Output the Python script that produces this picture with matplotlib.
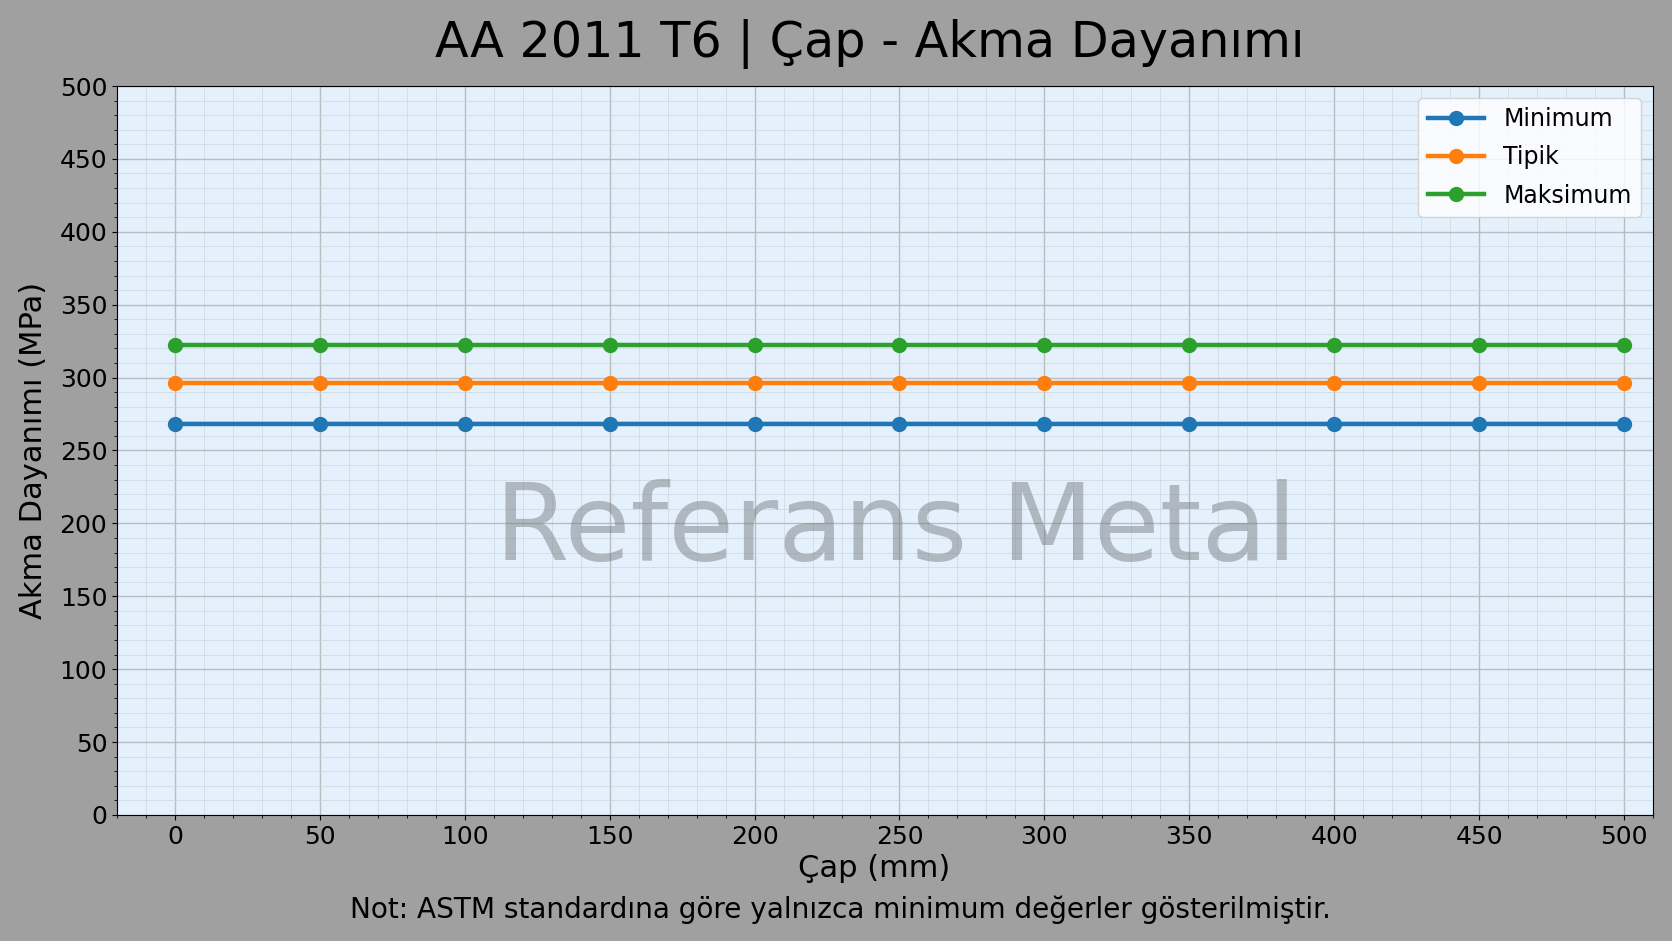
import matplotlib
matplotlib.use('Agg')
import matplotlib.pyplot as plt
from matplotlib.ticker import MultipleLocator, AutoMinorLocator

# values
cap_mm = [0, 50, 100, 150, 200, 250, 300, 350, 400, 450, 500]
minimum = [268] * 11
tipik = [296] * 11
maksimum = [322] * 11

fig, ax = plt.subplots(figsize=(16.72, 9.41), dpi=100)
fig.patch.set_facecolor('#a0a0a0')
ax.set_facecolor('#e4f0fc')
fig.subplots_adjust(left=0.070, right=0.9886, top=0.9086, bottom=0.134)

ax.plot(cap_mm, minimum, '-o', color='#1f77b4', lw=3.2, ms=10, label='Minimum')
ax.plot(cap_mm, tipik, '-o', color='#ff7f0e', lw=3.2, ms=10, label='Tipik')
ax.plot(cap_mm, maksimum, '-o', color='#2ca02c', lw=3.2, ms=10, label='Maksimum')

ax.set_xlim(-20, 510)
ax.set_ylim(0, 500)
ax.xaxis.set_major_locator(MultipleLocator(50))
ax.yaxis.set_major_locator(MultipleLocator(50))
ax.xaxis.set_minor_locator(AutoMinorLocator(5))
ax.yaxis.set_minor_locator(AutoMinorLocator(5))
ax.grid(which='major', color='#b4b8bc', lw=1.0, alpha=0.9)
ax.grid(which='minor', color='#c8d2dc', lw=0.7, alpha=0.6)
ax.set_axisbelow(True)
ax.tick_params(labelsize=18)

ax.set_title('AA 2011 T6 | Çap - Akma Dayanımı', fontsize=35.5, pad=21, x=0.49)
ax.set_xlabel('Çap (mm)', fontsize=22, x=0.493)
ax.set_ylabel('Akma Dayanımı (MPa)', fontsize=22, labelpad=8)

ax.text(0.507, 0.39, 'Referans Metal', transform=ax.transAxes, fontsize=77,
        color='#707478', alpha=0.45, ha='center', va='center')

ax.legend(loc='upper right', fontsize=17, labelspacing=0.6, handlelength=2.4)

fig.text(0.5026, 0.033, 'Not: ASTM standardına göre yalnızca minimum değerler gösterilmiştir.',
         ha='center', va='center', fontsize=20.2)

fig.savefig('out.png', facecolor=fig.get_facecolor())
